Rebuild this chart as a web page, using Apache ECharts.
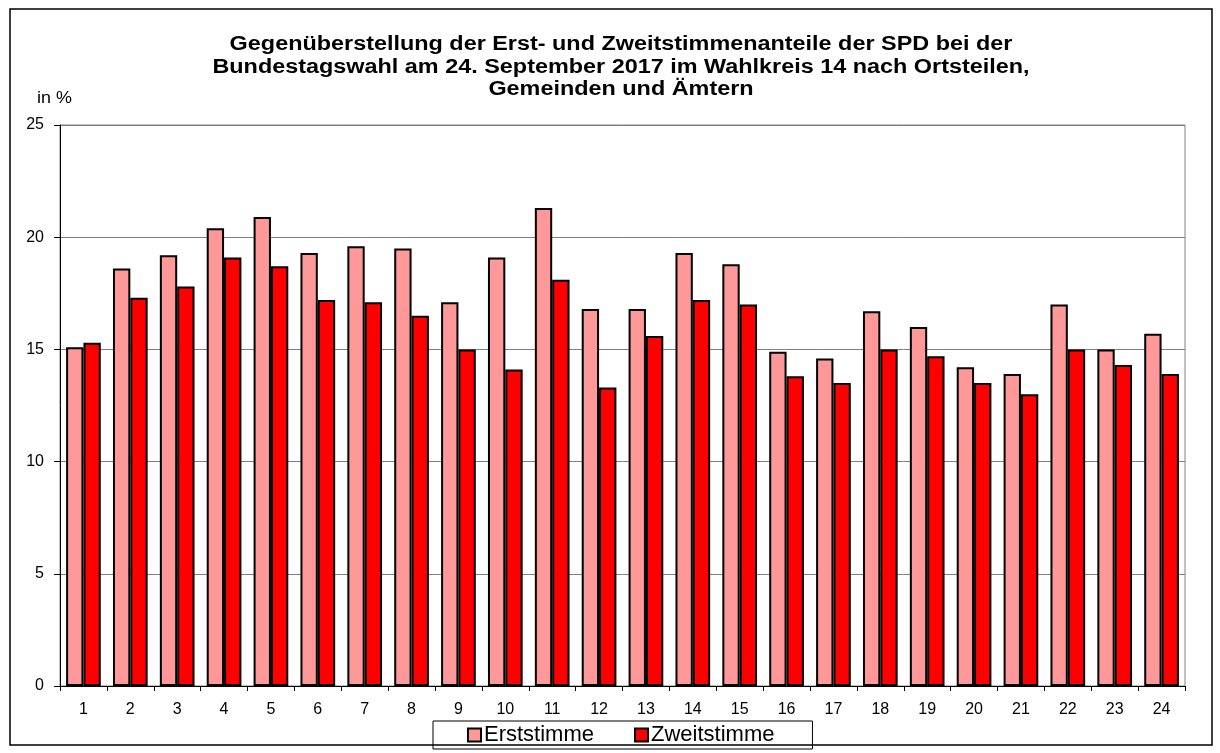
<!DOCTYPE html>
<html>
<head>
<meta charset="utf-8">
<script src="https://cdn.jsdelivr.net/npm/echarts@6/dist/echarts.min.js"></script>
<style>
  html, body { margin: 0; padding: 0; background: #fff; }
  #chart { width: 1220px; height: 753px; }
</style>
</head>
<body>
<div id="chart"></div>
<script>
const categories = ['1', '2', '3', '4', '5', '6', '7', '8', '9', '10', '11', '12',
  '13', '14', '15', '16', '17', '18', '19', '20', '21', '22', '23', '24']
const erststimme = [15.1, 18.6, 19.2, 20.4, 20.9, 19.3, 19.6, 19.5, 17.1, 19.1, 21.3, 16.8,
  16.8, 19.3, 18.8, 14.9, 14.6, 16.7, 16.0, 14.2, 13.9, 17.0, 15.0, 15.7]
const zweitstimme = [15.3, 17.3, 17.8, 19.1, 18.7, 17.2, 17.1, 16.5, 15.0, 14.1, 18.1, 13.3,
  15.6, 17.2, 17.0, 13.8, 13.5, 15.0, 14.7, 13.5, 13.0, 15.0, 14.3, 13.9]
const yTicks = [0, 5, 10, 15, 20, 25]

const titleText = 'Gegenüberstellung der Erst- und Zweitstimmenanteile der SPD bei der\n' +
  'Bundestagswahl am 24. September 2017 im Wahlkreis 14 nach Ortsteilen,\n' +
  'Gemeinden und Ämtern'

const font = '"Liberation Sans", Arial, sans-serif'
const chart = echarts.init(document.getElementById('chart'))

chart.setOption({
  animation: false,
  textStyle: { fontFamily: font, color: '#000' },
  graphic: [
    {
      type: 'rect',
      shape: { x: 10, y: 9, width: 1202, height: 736 },
      style: { fill: 'none', stroke: '#000', lineWidth: 1.5 }
    },
    // the original is a bit wider than tall, so the texts get stretched sideways
    {
      type: 'text',
      x: 621,
      y: 33,
      scaleX: 1.17,
      style: {
        text: titleText,
        font: 'bold 20px ' + font,
        fill: '#000',
        align: 'center',
        verticalAlign: 'top',
        lineHeight: 22.7
      }
    },
    {
      type: 'text',
      x: 37,
      y: 91,
      scaleX: 1.12,
      style: { text: 'in %', font: '16px ' + font, fill: '#000', verticalAlign: 'top' }
    }
  ],
  legend: {
    bottom: 4,
    left: 433,
    icon: 'rect',
    itemWidth: 13,
    itemHeight: 13,
    itemGap: 40,
    padding: [3, 38, 3, 34],
    borderColor: '#000',
    borderWidth: 1,
    textStyle: { fontFamily: font, fontSize: 22, color: '#000', padding: [0, 0, 0, -2] },
    data: ['Erststimme', 'Zweitstimme']
  },
  grid: {
    left: 60,
    right: 35,
    top: 125,
    bottom: 67,
    show: true,
    borderColor: '#808080',
    borderWidth: 1
  },
  xAxis: {
    type: 'category',
    data: categories,
    axisLine: { lineStyle: { color: '#000', width: 1 } },
    axisTick: { show: true, length: 5, lineStyle: { color: '#000' } },
    axisLabel: { color: '#000', fontSize: 16, margin: 16 }
  },
  yAxis: {
    type: 'value',
    min: yTicks[0],
    max: yTicks[yTicks.length - 1],
    interval: 5,
    axisLine: { show: true, lineStyle: { color: '#000', width: 1 } },
    axisTick: { show: true, length: 6, lineStyle: { color: '#000' } },
    axisLabel: { color: '#000', fontSize: 16, margin: 16 },
    splitLine: { lineStyle: { color: '#808080', width: 1 } }
  },
  series: [
    {
      name: 'Erststimme',
      type: 'bar',
      data: erststimme,
      barGap: '0%',
      barCategoryGap: '26%',
      itemStyle: { color: '#FF9999', borderColor: '#000', borderWidth: 2 }
    },
    {
      name: 'Zweitstimme',
      type: 'bar',
      data: zweitstimme,
      itemStyle: { color: '#FF0000', borderColor: '#000', borderWidth: 2 }
    }
  ]
})
</script>
</body>
</html>
